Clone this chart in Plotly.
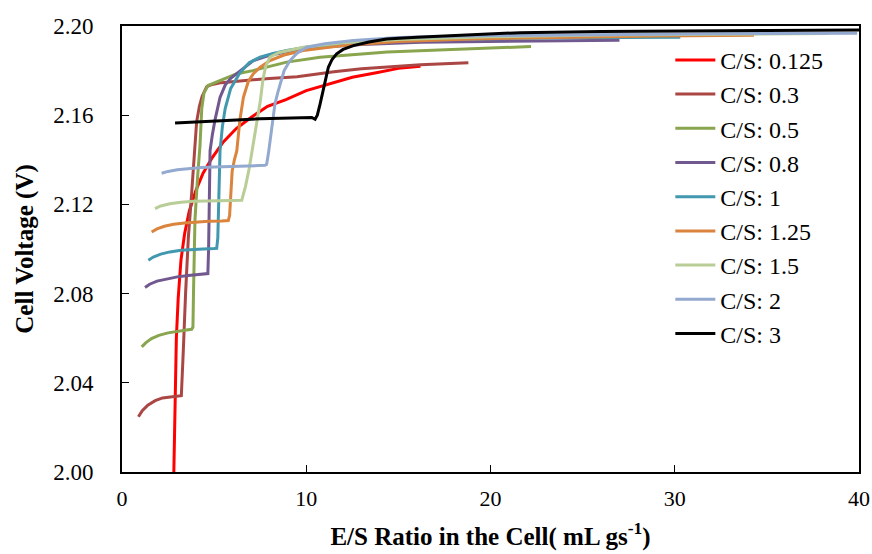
import plotly.graph_objects as go

names = ["C/S: 0.125", "C/S: 0.3", "C/S: 0.5", "C/S: 0.8", "C/S: 1",
         "C/S: 1.25", "C/S: 1.5", "C/S: 2", "C/S: 3"]
colors = ["#FF0000", "#AA4643", "#89A54E", "#71588F", "#4198AF",
          "#DB843D", "#B9CD96", "#93A9CF", "#000000"]

x_0125 = [2.78, 2.82, 2.86, 2.90, 2.95, 3.05, 3.20, 3.40, 3.65, 4.00, 4.40, 4.90, 5.50, 6.20,
          7.00, 7.90, 8.90, 10.0, 11.2, 12.5, 13.8, 15.0, 16.2]
v_0125 = [1.985, 2.000, 2.025, 2.045, 2.060, 2.078, 2.095, 2.107, 2.117, 2.126, 2.134, 2.141, 2.148, 2.154,
          2.159, 2.164, 2.167, 2.171, 2.174, 2.177, 2.179, 2.181, 2.182]

x_03 = [0.89, 1.10, 1.40, 1.80, 2.20, 2.60, 2.95, 3.22, 3.26, 3.33, 3.45, 3.60, 3.78, 3.96, 4.05,
        4.20, 4.35, 4.60, 4.90, 5.40, 6.50, 8.00, 9.50, 10.5, 11.5, 13.0, 14.5, 16.2, 17.5, 18.8]
v_03 = [2.0248, 2.0275, 2.0300, 2.0320, 2.0332, 2.0338, 2.0340, 2.0342, 2.0400, 2.0550, 2.0800, 2.1050,
        2.1250, 2.1440, 2.1570, 2.1640, 2.1685, 2.1728, 2.1738, 2.1746, 2.1755, 2.1765, 2.1772, 2.1785,
        2.1795, 2.1808, 2.1818, 2.1826, 2.1831, 2.1835]

x_05 = [1.07, 1.30, 1.60, 2.00, 2.50, 3.00, 3.50, 3.78, 3.85, 3.88, 3.96, 4.10, 4.23, 4.33, 4.45,
        4.67, 5.00, 5.32, 6.20, 7.10, 8.00, 8.94, 10.75, 12.5, 14.4, 16.5, 18.0, 20.0, 22.2]
v_05 = [2.0561, 2.0580, 2.0598, 2.0613, 2.0624, 2.0632, 2.0637, 2.0640, 2.0650, 2.0800, 2.1130, 2.1320,
        2.1460, 2.1630, 2.1700, 2.1733, 2.1745, 2.1756, 2.1785, 2.1800, 2.1820, 2.1838, 2.1860, 2.1872,
        2.1883, 2.1890, 2.1895, 2.1900, 2.1908]

x_08 = [1.25, 1.50, 1.90, 2.40, 3.00, 3.60, 4.20, 4.60, 4.66, 4.70, 4.74, 4.78, 4.90, 5.05, 5.32,
        5.60, 5.90, 6.23, 6.70, 7.13, 8.00, 9.00, 10.75, 13.0, 16.2, 20.0, 24.0, 27.0]
v_08 = [2.0827, 2.0842, 2.0856, 2.0866, 2.0875, 2.0881, 2.0885, 2.0888, 2.0890, 2.1000, 2.1200, 2.1440,
        2.1510, 2.1580, 2.1680, 2.1735, 2.1765, 2.1786, 2.1820, 2.1845, 2.1868, 2.1885, 2.1905, 2.1917,
        2.1927, 2.1932, 2.1934, 2.1936]

x_1 = [1.43, 1.70, 2.10, 2.60, 3.20, 3.80, 4.40, 5.00, 5.14, 5.20, 5.24, 5.28, 5.32, 5.45, 5.60,
       5.90, 6.40, 6.90, 7.49, 8.20, 8.94, 10.0, 12.0, 15.0, 19.0, 24.0, 30.3]
v_1 = [2.0950, 2.0964, 2.0977, 2.0987, 2.0994, 2.0998, 2.1000, 2.1002, 2.1003, 2.1050, 2.1200, 2.1350,
       2.1440, 2.1550, 2.1630, 2.1720, 2.1790, 2.1835, 2.1860, 2.1877, 2.1890, 2.1905, 2.1920, 2.1933,
       2.1942, 2.1947, 2.1950]

x_125 = [1.61, 1.90, 2.30, 2.80, 3.40, 4.00, 4.70, 5.40, 5.77, 5.84, 5.90, 5.98, 6.10, 6.23, 6.40,
         6.59, 6.85, 7.13, 7.50, 8.03, 8.80, 9.84, 12.0, 15.0, 19.0, 24.0, 29.0, 34.3]
v_125 = [2.1076, 2.1090, 2.1102, 2.1111, 2.1117, 2.1121, 2.1124, 2.1126, 2.1128, 2.1150, 2.1250, 2.1350,
         2.1400, 2.1440, 2.1580, 2.1680, 2.1750, 2.1786, 2.1815, 2.1845, 2.1870, 2.1890, 2.1912, 2.1930,
         2.1942, 2.1950, 2.1955, 2.1958]

x_15 = [1.79, 2.10, 2.60, 3.20, 3.90, 4.60, 5.30, 6.00, 6.50, 6.70, 6.90, 7.10, 7.30, 7.50, 7.65,
        7.80, 8.03, 8.50, 9.84, 12.0, 15.0, 20.0, 26.0, 32.0, 38.3]
v_15 = [2.1181, 2.1193, 2.1203, 2.1210, 2.1214, 2.1216, 2.1217, 2.1218, 2.1219, 2.1280, 2.1360, 2.1460,
        2.1560, 2.1660, 2.1760, 2.1820, 2.1860, 2.1880, 2.1905, 2.1925, 2.1940, 2.1952, 2.1960, 2.1964,
        2.1966]

x_2 = [2.15, 2.50, 3.00, 3.60, 4.30, 5.00, 5.80, 6.60, 7.40, 7.76, 7.85, 7.95, 8.05, 8.15, 8.30,
       8.45, 8.58, 8.80, 9.12, 9.50, 10.03, 11.0, 12.56, 15.0, 20.0, 26.0, 32.0, 39.9]
v_2 = [2.1340, 2.1348, 2.1355, 2.1361, 2.1365, 2.1368, 2.1371, 2.1373, 2.1374, 2.1375, 2.1380, 2.1430,
       2.1500, 2.1560, 2.1650, 2.1700, 2.1740, 2.1800, 2.1845, 2.1878, 2.1905, 2.1920, 2.1935, 2.1948,
       2.1957, 2.1962, 2.1965, 2.1968]

x_3 = [2.88, 3.50, 4.50, 5.50, 6.50, 7.50, 8.50, 9.50, 10.03, 10.30, 10.48, 10.60, 10.75, 10.90, 11.02,
       11.20, 11.40, 11.65, 12.00, 12.56, 13.4, 14.37, 16.0, 18.0, 21.6, 26.0, 30.0, 35.0, 40.0]
v_3 = [2.1565, 2.1568, 2.1573, 2.1577, 2.1580, 2.1584, 2.1587, 2.1590, 2.1592, 2.1590, 2.1582, 2.1600,
       2.1650, 2.1710, 2.1756, 2.1815, 2.1850, 2.1875, 2.1895, 2.1912, 2.1928, 2.1942, 2.1950, 2.1957,
       2.1970, 2.1975, 2.1978, 2.1980, 2.1982]

xs = [x_0125, x_03, x_05, x_08, x_1, x_125, x_15, x_2, x_3]
vs = [v_0125, v_03, v_05, v_08, v_1, v_125, v_15, v_2, v_3]

x_ticks = [0, 10, 20, 30, 40]
y_ticks = [2.00, 2.04, 2.08, 2.12, 2.16, 2.20]

FONT = "Liberation Serif"

fig = go.Figure()
for name, c, x, v in zip(names, colors, xs, vs):
    fig.add_trace(go.Scatter(x=x, y=v, mode="lines", name=name, legendgroup=name,
                             line=dict(color=c, width=3)))

fig.update_layout(
    width=872, height=554,
    margin=dict(l=122, r=13, t=26, b=82),
    paper_bgcolor="white", plot_bgcolor="white",
    font=dict(family=FONT, color="black"),
    showlegend=True,
    legend=dict(x=0.744, y=0.9735, xanchor="left", yanchor="top",
                font=dict(family=FONT, size=24, color="black"),
                bgcolor="rgba(255,255,255,0)", tracegroupgap=0,
                itemwidth=40),
)
fig.update_xaxes(
    range=[0, 40], tickvals=x_ticks, ticktext=[str(t) for t in x_ticks],
    ticks="inside", ticklen=7, tickcolor="black", tickwidth=1,
    showline=True, linecolor="black", linewidth=2, mirror=True,
    showgrid=False, zeroline=False, automargin=False,
    tickfont=dict(family=FONT, size=22, color="black"), ticklabelstandoff=6,
    title=dict(text="E/S Ratio in the Cell( mL gs<sup>-1</sup>)",
               font=dict(family=FONT, size=25, color="black", weight="bold"), standoff=17),
)
fig.update_yaxes(
    range=[2.00, 2.20], tickvals=y_ticks, ticktext=[f"{t:.2f}" for t in y_ticks],
    ticks="inside", ticklen=7, tickcolor="black", tickwidth=1,
    showline=True, linecolor="black", linewidth=2, mirror=True,
    showgrid=False, zeroline=False, automargin=False,
    tickfont=dict(family=FONT, size=23, color="black"), ticklabelstandoff=22,
    title=dict(text="Cell Voltage (V)",
               font=dict(family=FONT, size=25, color="black", weight="bold"), standoff=12),
)

fig.write_html("out.html")
